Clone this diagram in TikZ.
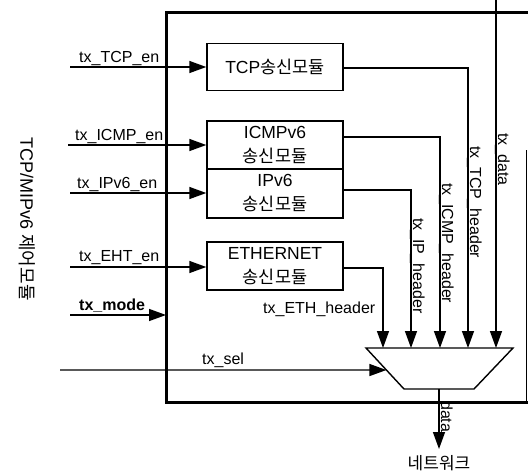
\documentclass[tikz,border=0pt]{standalone}
\usepackage{fontspec}
\setmainfont{Liberation Sans}
\newfontfamily\kr{Noto Sans CJK KR}
\usetikzlibrary{arrows.meta,calc}
\begin{document}
\begin{tikzpicture}[x=1pt,y=-1pt,
  wire/.style={line width=1.4pt},
  arr/.style={line width=1.4pt,-{Triangle[length=17pt,width=12pt]}},
  blk/.style={draw,line width=1.4pt,minimum width=136pt,inner sep=0pt,align=center,font=\fontsize{17.5}{24}\selectfont},
  lbl/.style={font=\fontsize{16}{18}\selectfont,inner sep=0pt,anchor=base west},
  vlbl/.style={lbl,rotate=-90,anchor=base west},
]
\useasboundingbox (0,0) rectangle (528,472);
\fill[white] (0,0) rectangle (528,472);
% main enclosure
\draw[line width=3pt] (528,12) -- (166,12) -- (166,402) -- (528,402);
\draw[line width=1pt] (526,150) -- (526,402);
% blocks
\node[blk,minimum height=47pt] (tcp) at (275,67) {TCP{\kr 송신모듈}};
\node[blk,minimum height=48pt] (icmp) at (275,145) {ICMPv6\\{\kr 송신모듈}};
\node[blk,minimum height=49pt] (ipv6) at (275,193.5) {IPv6\\{\kr 송신모듈}};
\node[blk,minimum height=48pt] (eth) at (275,266) {ETHERNET\\{\kr 송신모듈}};
% mux
\coordinate (m1) at (366,348);
\coordinate (m2) at (513,348);
\coordinate (m3) at (474,389);
\coordinate (m4) at (404,389);
\draw[wire] (m1) -- (m2) -- (m3) -- (m4) -- cycle;
\coordinate (mi1) at (383,348);
\coordinate (mi2) at (411,348);
\coordinate (mi3) at (440,348);
\coordinate (mi4) at (468,348);
\coordinate (mi5) at (496,348);
\coordinate (mo) at (439,389);
\coordinate (net) at (439,449);
% inputs
\coordinate (a1) at (70,67);
\coordinate (a2) at (68,145);
\coordinate (a3) at (70,193);
\coordinate (a4) at (70,267);
\coordinate (a5) at (70,315);
\coordinate (a6) at (60,370);
\coordinate (boxl) at (166,315);
\draw[arr] (a1) -- (tcp.west |- a1);
\draw[arr] (a2) -- (icmp.west |- a2);
\draw[arr] (a3) -- (ipv6.west |- a3);
\draw[arr] (a4) -- (eth.west |- a4);
\draw[arr] (a5) -- (boxl);
\draw[arr] (a6) -- ($(m1)!0.537!(m4)$);
\node[lbl] (l1) at (79,62) {tx\_TCP\_en};
\node[lbl] (l2) at (75,140) {tx\_ICMP\_en};
\node[lbl] (l3) at (77,188) {tx\_IPv6\_en};
\node[lbl] (l4) at (79,261) {tx\_EHT\_en};
\node[lbl,font=\fontsize{16}{18}\selectfont\bfseries] (l5) at (79,310) {tx\_mode};
\node[lbl] (l6) at (202,364) {tx\_sel};
% headers
\coordinate (c1) at (468,68);
\coordinate (c2) at (440,137);
\coordinate (c3) at (411,190);
\coordinate (c4) at (383,268);
\coordinate (d0) at (496,0);
\draw[arr] (tcp.east |- c1) -- (c1) -- (mi4);
\draw[arr] (icmp.east |- c2) -- (c2) -- (mi3);
\draw[arr] (ipv6.east |- c3) -- (c3) -- (mi2);
\draw[arr] (eth.east |- c4) -- (c4) -- (mi1);
\draw[arr] (d0) -- (mi5);
\draw[arr] (mo) -- (net);
\node[lbl] (l7) at (263,313) {tx\_ETH\_header};
\node[vlbl] (v1) at (498,133) {tx\_data};
\node[vlbl] (v2) at (470,146) {tx\_TCP\_header};
\node[vlbl] (v3) at (442,183) {tx\_ICMP\_header};
\node[vlbl] (v4) at (413,218) {tx\_IP\_header};
\node[vlbl] (v5) at (441,401) {data};
\node[font=\kr\fontsize{17}{20}\selectfont,inner sep=0pt] (nw) at (439,463) {네트워크};
\node[rotate=-90,font=\fontsize{18}{20}\selectfont,inner sep=0pt] (ctl) at (27,219) {TCP/MIPv6 {\kr 제어모듈}};
\end{tikzpicture}
\end{document}
